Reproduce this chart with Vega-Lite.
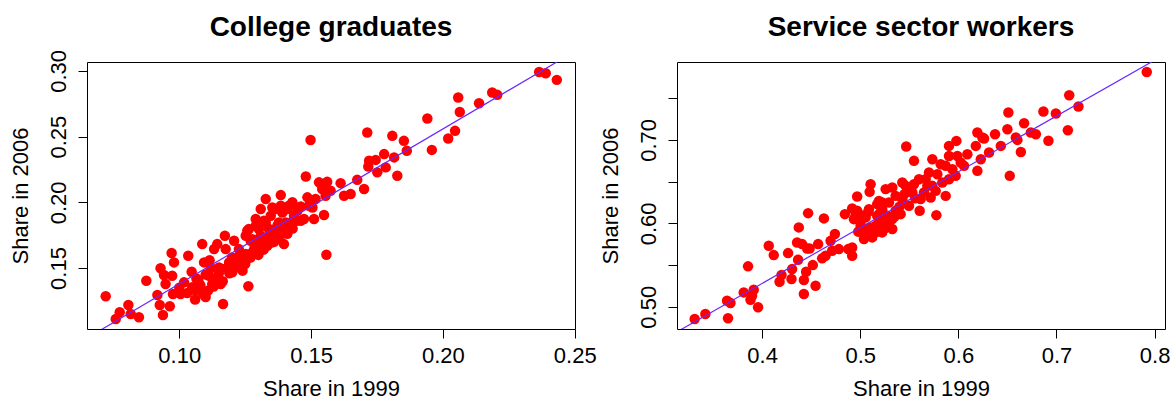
{
  "$schema": "https://vega.github.io/schema/vega-lite/v6.json",
  "background": "white",
  "padding": {"left": 8, "top": 13, "right": 0, "bottom": 0},
  "bounds": "flush",
  "spacing": 102,
  "config": {
    "font": "Liberation Sans",
    "view": {"stroke": "black", "strokeWidth": 1},
    "axis": {
      "domain": false, "grid": false,
      "tickColor": "black", "tickSize": 9, "tickWidth": 1,
      "labelFont": "Liberation Sans", "labelFontSize": 22, "labelColor": "black",
      "titleFont": "Liberation Sans", "titleFontSize": 22, "titleFontWeight": "normal", "titleColor": "black",
      "labelOverlap": false, "labelFlush": false, "labelBound": false
    },
    "axisX": {"labelPadding": 7, "titlePadding": 12},
    "axisY": {"labelAngle": -90, "labelAlign": "center", "labelBaseline": "bottom", "labelPadding": 8, "titlePadding": 15},
    "title": {"font": "Liberation Sans", "fontSize": 28, "fontWeight": "bold", "color": "black", "frame": "group", "anchor": "middle"}
  },
  "datasets": {
    "college": [
      {"share1999":0.0721,"share2006":0.1285},{"share1999":0.0759,"share2006":0.1112},{"share1999":0.0774,"share2006":0.1163},{"share1999":0.0807,"share2006":0.1219},
      {"share1999":0.0816,"share2006":0.1150},{"share1999":0.0847,"share2006":0.1125},{"share1999":0.0875,"share2006":0.1403},{"share1999":0.0917,"share2006":0.1295},
      {"share1999":0.0926,"share2006":0.1219},{"share1999":0.0938,"share2006":0.1143},{"share1999":0.0964,"share2006":0.1209},{"share1999":0.0929,"share2006":0.1498},
      {"share1999":0.0942,"share2006":0.1447},{"share1999":0.0971,"share2006":0.1614},{"share1999":0.0980,"share2006":0.1543},{"share1999":0.0973,"share2006":0.1441},
      {"share1999":0.0948,"share2006":0.1378},{"share1999":0.0976,"share2006":0.1302},{"share1999":0.1005,"share2006":0.1302},{"share1999":0.1018,"share2006":0.1391},
      {"share1999":0.1034,"share2006":0.1594},{"share1999":0.1047,"share2006":0.1472},{"share1999":0.1049,"share2006":0.1353},{"share1999":0.1072,"share2006":0.1403},
      {"share1999":0.1087,"share2006":0.1682},{"share1999":0.1090,"share2006":0.1302},{"share1999":0.1094,"share2006":0.1543},{"share1999":0.1113,"share2006":0.1441},
      {"share1999":0.1125,"share2006":0.1378},{"share1999":0.1132,"share2006":0.1644},{"share1999":0.1144,"share2006":0.1682},{"share1999":0.1151,"share2006":0.1505},
      {"share1999":0.1157,"share2006":0.1378},{"share1999":0.1166,"share2006":0.1226},{"share1999":0.1173,"share2006":0.1746},{"share1999":0.1176,"share2006":0.1644},
      {"share1999":0.1189,"share2006":0.1543},{"share1999":0.1201,"share2006":0.1467},{"share1999":0.1208,"share2006":0.1708},{"share1999":0.1214,"share2006":0.1543},
      {"share1999":0.1226,"share2006":0.1644},{"share1999":0.1245,"share2006":0.1568},{"share1999":0.1258,"share2006":0.1784},{"share1999":0.1262,"share2006":0.1361},
      {"share1999":0.1271,"share2006":0.1708},{"share1999":0.1277,"share2006":0.1619},{"share1999":0.1290,"share2006":0.1822},{"share1999":0.1302,"share2006":0.1670},
      {"share1999":0.1309,"share2006":0.1746},{"share1999":0.1328,"share2006":0.2025},{"share1999":0.1328,"share2006":0.1847},{"share1999":0.1334,"share2006":0.1670},
      {"share1999":0.1347,"share2006":0.1898},{"share1999":0.1353,"share2006":0.1771},{"share1999":0.1366,"share2006":0.1949},{"share1999":0.1372,"share2006":0.1822},
      {"share1999":0.1385,"share2006":0.2055},{"share1999":0.1391,"share2006":0.1923},{"share1999":0.1397,"share2006":0.1682},{"share1999":0.1404,"share2006":0.1847},
      {"share1999":0.1416,"share2006":0.1974},{"share1999":0.1429,"share2006":0.2000},{"share1999":0.1435,"share2006":0.1898},{"share1999":0.1498,"share2006":0.2475},
      {"share1999":0.1713,"share2006":0.2532},{"share1999":0.1808,"share2006":0.2506},{"share1999":0.1480,"share2006":0.2197},{"share1999":0.1558,"share2006":0.1601},
      {"share1999":0.1530,"share2006":0.2152},{"share1999":0.1561,"share2006":0.2156},{"share1999":0.1612,"share2006":0.2146},{"share1999":0.1675,"share2006":0.2171},
      {"share1999":0.1701,"share2006":0.2101},{"share1999":0.1625,"share2006":0.2050},{"share1999":0.1650,"share2006":0.2063},{"share1999":0.1720,"share2006":0.2316},
      {"share1999":0.1745,"share2006":0.2323},{"share1999":0.1777,"share2006":0.2367},{"share1999":0.1815,"share2006":0.2342},{"share1999":0.1751,"share2006":0.2228},
      {"share1999":0.1783,"share2006":0.2266},{"share1999":0.1827,"share2006":0.2202},{"share1999":0.1486,"share2006":0.2038},{"share1999":0.1517,"share2006":0.2025},
      {"share1999":0.1492,"share2006":0.1974},{"share1999":0.1549,"share2006":0.1903},{"share1999":0.1511,"share2006":0.1873},{"share1999":0.1473,"share2006":0.1873},
      {"share1999":0.1410,"share2006":0.1949},{"share1999":0.1353,"share2006":0.1961},{"share1999":0.1461,"share2006":0.1860},{"share1999":0.1378,"share2006":0.1847},
      {"share1999":0.1321,"share2006":0.1860},{"share1999":0.1290,"share2006":0.1873},{"share1999":0.1264,"share2006":0.1797},{"share1999":0.1252,"share2006":0.1746},
      {"share1999":0.1277,"share2006":0.1720},{"share1999":0.1302,"share2006":0.1797},{"share1999":0.1340,"share2006":0.1797},{"share1999":0.1366,"share2006":0.1771},
      {"share1999":0.1328,"share2006":0.1720},{"share1999":0.1290,"share2006":0.1670},{"share1999":0.1252,"share2006":0.1606},{"share1999":0.1252,"share2006":0.1555},
      {"share1999":0.1353,"share2006":0.1695},{"share1999":0.1385,"share2006":0.1974},{"share1999":0.1309,"share2006":0.1949},{"share1999":0.1448,"share2006":0.1936},
      {"share1999":0.1852,"share2006":0.2468},{"share1999":0.1863,"share2006":0.2392},{"share1999":0.1717,"share2006":0.2273},{"share1999":0.1542,"share2006":0.2101},
      {"share1999":0.1574,"share2006":0.2088},{"share1999":0.1555,"share2006":0.2050},{"share1999":0.1505,"share2006":0.1961},{"share1999":0.1423,"share2006":0.1847},
      {"share1999":0.1461,"share2006":0.1969},{"share1999":0.1941,"share2006":0.2638},{"share1999":0.1958,"share2006":0.2399},{"share1999":0.2020,"share2006":0.2486},
      {"share1999":0.2046,"share2006":0.2544},{"share1999":0.2058,"share2006":0.2798},{"share1999":0.2064,"share2006":0.2688},{"share1999":0.2137,"share2006":0.2754},
      {"share1999":0.2187,"share2006":0.2836},{"share1999":0.2206,"share2006":0.2818},{"share1999":0.2365,"share2006":0.2992},{"share1999":0.2390,"share2006":0.2983},
      {"share1999":0.2432,"share2006":0.2932},
      {"share1999":0.1000,"share2006":0.1350},{"share1999":0.1030,"share2006":0.1310},{"share1999":0.1060,"share2006":0.1330},{"share1999":0.1065,"share2006":0.1420},
      {"share1999":0.1080,"share2006":0.1370},{"share1999":0.1100,"share2006":0.1450},{"share1999":0.1110,"share2006":0.1330},{"share1999":0.1120,"share2006":0.1500},
      {"share1999":0.1140,"share2006":0.1420},{"share1999":0.1150,"share2006":0.1460},{"share1999":0.1165,"share2006":0.1400},{"share1999":0.1180,"share2006":0.1500},
      {"share1999":0.1190,"share2006":0.1460},{"share1999":0.1200,"share2006":0.1580},{"share1999":0.1220,"share2006":0.1510},{"share1999":0.1230,"share2006":0.1600},
      {"share1999":0.1240,"share2006":0.1480},{"share1999":0.1250,"share2006":0.1530},{"share1999":0.1270,"share2006":0.1580},{"share1999":0.1285,"share2006":0.1650},
      {"share1999":0.1300,"share2006":0.1600},{"share1999":0.1310,"share2006":0.1700},{"share1999":0.1320,"share2006":0.1640},{"share1999":0.1340,"share2006":0.1740},
      {"share1999":0.1360,"share2006":0.1700},{"share1999":0.1380,"share2006":0.1730},{"share1999":0.1395,"share2006":0.1800},{"share1999":0.1410,"share2006":0.1760},
      {"share1999":0.1430,"share2006":0.1800},{"share1999":0.1445,"share2006":0.1860},{"share1999":0.1115,"share2006":0.1560},{"share1999":0.1060,"share2006":0.1260},
      {"share1999":0.1100,"share2006":0.1280},{"share1999":0.1130,"share2006":0.1360}
    ],
    "college_fit": [
      {"share1999":0.06,"share2006":0.0908},{"share1999":0.26,"share2006":0.3266}
    ],
    "service": [
      {"share1999":0.3313,"share2006":0.4853},{"share1999":0.3422,"share2006":0.4913},{"share1999":0.3653,"share2006":0.4861},{"share1999":0.3643,"share2006":0.5072},
      {"share1999":0.3678,"share2006":0.5044},{"share1999":0.3813,"share2006":0.5172},{"share1999":0.3857,"share2006":0.5484},{"share1999":0.3882,"share2006":0.5084},
      {"share1999":0.3915,"share2006":0.5204},{"share1999":0.3959,"share2006":0.4993},{"share1999":0.3898,"share2006":0.5132},{"share1999":0.4068,"share2006":0.5731},
      {"share1999":0.4119,"share2006":0.5619},{"share1999":0.4178,"share2006":0.5299},{"share1999":0.4198,"share2006":0.5380},{"share1999":0.4265,"share2006":0.5643},
      {"share1999":0.4300,"share2006":0.5332},{"share1999":0.4306,"share2006":0.5451},{"share1999":0.4367,"share2006":0.5563},{"share1999":0.4374,"share2006":0.5951},
      {"share1999":0.4357,"share2006":0.5771},{"share1999":0.4408,"share2006":0.5751},{"share1999":0.4426,"share2006":0.5152},{"share1999":0.4426,"share2006":0.5320},
      {"share1999":0.4449,"share2006":0.5419},{"share1999":0.4459,"share2006":0.5699},{"share1999":0.4469,"share2006":0.6122},{"share1999":0.4484,"share2006":0.5699},
      {"share1999":0.4517,"share2006":0.5499},{"share1999":0.4545,"share2006":0.5251},{"share1999":0.4571,"share2006":0.5751},{"share1999":0.4612,"share2006":0.5580},
      {"share1999":0.4630,"share2006":0.6059},{"share1999":0.4647,"share2006":0.5611},{"share1999":0.4698,"share2006":0.5790},{"share1999":0.4742,"share2006":0.5871},
      {"share1999":0.4714,"share2006":0.5671},{"share1999":0.4783,"share2006":0.5691},{"share1999":0.4844,"share2006":0.6110},{"share1999":0.4878,"share2006":0.5691},
      {"share1999":0.4918,"share2006":0.5611},{"share1999":0.4918,"share2006":0.6178},{"share1999":0.4953,"share2006":0.6090},{"share1999":0.4969,"share2006":0.6322},
      {"share1999":0.5004,"share2006":0.6030},{"share1999":0.5020,"share2006":0.5951},{"share1999":0.5038,"share2006":0.5811},{"share1999":0.5082,"share2006":0.6138},
      {"share1999":0.5096,"share2006":0.6377},{"share1999":0.5106,"share2006":0.6469},{"share1999":0.5122,"share2006":0.5831},{"share1999":0.5157,"share2006":0.5910},
      {"share1999":0.5173,"share2006":0.6230},{"share1999":0.5191,"share2006":0.6011},{"share1999":0.5224,"share2006":0.6250},{"share1999":0.5242,"share2006":0.5931},
      {"share1999":0.5259,"share2006":0.6410},{"share1999":0.5276,"share2006":0.6090},{"share1999":0.5469,"share2006":0.6921},{"share1999":0.5548,"share2006":0.6749},
      {"share1999":0.5735,"share2006":0.6769},{"share1999":0.5776,"share2006":0.6098},{"share1999":0.5606,"share2006":0.6150},{"share1999":0.5905,"share2006":0.6928},
      {"share1999":0.5980,"share2006":0.6988},{"share1999":0.6194,"share2006":0.7089},{"share1999":0.6262,"share2006":0.7017},{"share1999":0.6374,"share2006":0.7068},
      {"share1999":0.6510,"share2006":0.7328},{"share1999":0.6500,"share2006":0.7128},{"share1999":0.6670,"share2006":0.7200},{"share1999":0.6586,"share2006":0.7029},
      {"share1999":0.6637,"share2006":0.6856},{"share1999":0.6524,"share2006":0.6569},{"share1999":0.6433,"share2006":0.6928},{"share1999":0.6313,"share2006":0.6849},
      {"share1999":0.6229,"share2006":0.6769},{"share1999":0.6194,"share2006":0.6629},{"share1999":0.6178,"share2006":0.6928},{"share1999":0.6092,"share2006":0.6829},
      {"share1999":0.6024,"share2006":0.6729},{"share1999":0.6058,"share2006":0.6689},{"share1999":0.5990,"share2006":0.6808},{"share1999":0.5905,"share2006":0.6808},
      {"share1999":0.5871,"share2006":0.6689},{"share1999":0.5820,"share2006":0.6709},{"share1999":0.5939,"share2006":0.6649},{"share1999":0.5973,"share2006":0.6569},
      {"share1999":0.5905,"share2006":0.6529},{"share1999":0.5837,"share2006":0.6490},{"share1999":0.5786,"share2006":0.6589},{"share1999":0.5701,"share2006":0.6610},
      {"share1999":0.5667,"share2006":0.6529},{"share1999":0.5735,"share2006":0.6449},{"share1999":0.5769,"share2006":0.6389},{"share1999":0.5718,"share2006":0.6310},
      {"share1999":0.5871,"share2006":0.6329},{"share1999":0.5650,"share2006":0.6370},{"share1999":0.5599,"share2006":0.6529},{"share1999":0.5548,"share2006":0.6469},
      {"share1999":0.5616,"share2006":0.6290},{"share1999":0.5531,"share2006":0.6370},{"share1999":0.5463,"share2006":0.6449},{"share1999":0.5429,"share2006":0.6490},
      {"share1999":0.5327,"share2006":0.6430},{"share1999":0.5361,"share2006":0.6329},{"share1999":0.5429,"share2006":0.6290},{"share1999":0.5497,"share2006":0.6210},
      {"share1999":0.5293,"share2006":0.6250},{"share1999":0.5191,"share2006":0.6269},{"share1999":0.5224,"share2006":0.6170},{"share1999":0.5361,"share2006":0.6150},
      {"share1999":0.5412,"share2006":0.6110},{"share1999":0.5327,"share2006":0.6050},{"share1999":0.5242,"share2006":0.6030},{"share1999":0.5173,"share2006":0.6090},
      {"share1999":0.5089,"share2006":0.6170},{"share1999":0.5055,"share2006":0.6071},{"share1999":0.4969,"share2006":0.6150},{"share1999":0.4936,"share2006":0.6050},
      {"share1999":0.5004,"share2006":0.5970},{"share1999":0.5157,"share2006":0.5970},{"share1999":0.5259,"share2006":0.5951},{"share1999":0.5327,"share2006":0.5931},
      {"share1999":0.5224,"share2006":0.5891},{"share1999":0.5122,"share2006":0.5850},{"share1999":0.4918,"share2006":0.5711},{"share1999":0.5684,"share2006":0.6449},
      {"share1999":0.6739,"share2006":0.7089},{"share1999":0.6790,"share2006":0.7068},{"share1999":0.6867,"share2006":0.7340},{"share1999":0.6918,"share2006":0.6990},
      {"share1999":0.6994,"share2006":0.7316},{"share1999":0.7116,"share2006":0.7116},{"share1999":0.7130,"share2006":0.7535},{"share1999":0.7224,"share2006":0.7400},
      {"share1999":0.7920,"share2006":0.7814},{"share1999":0.6602,"share2006":0.7000},{"share1999":0.6245,"share2006":0.7029},
      {"share1999":0.5050,"share2006":0.5870},{"share1999":0.5100,"share2006":0.5950},{"share1999":0.5180,"share2006":0.5900},{"share1999":0.5280,"share2006":0.6000},
      {"share1999":0.5350,"share2006":0.6080},{"share1999":0.5400,"share2006":0.6200},{"share1999":0.5450,"share2006":0.6350},{"share1999":0.5500,"share2006":0.6400},
      {"share1999":0.5560,"share2006":0.6300},{"share1999":0.5200,"share2006":0.6120},{"share1999":0.5000,"share2006":0.6100},{"share1999":0.4980,"share2006":0.5900}
    ],
    "service_fit": [
      {"share1999":0.30,"share2006":0.4610},{"share1999":0.82,"share2006":0.8089}
    ]
  },
  "hconcat": [
    {
      "title": {"text": "College graduates", "offset": 8},
      "width": 488,
      "height": 267,
      "layer": [
        {
          "data": {"name": "college"},
          "mark": {"type": "point", "shape": "circle", "filled": true, "color": "#ff0000", "opacity": 1, "size": 110},
          "encoding": {
            "x": {"field": "share1999", "type": "quantitative", "title": "Share in 1999",
                  "scale": {"domain": [0.065, 0.2501], "nice": false, "zero": false},
                  "axis": {"values": [0.10, 0.15, 0.20, 0.25], "format": ".2f"}},
            "y": {"field": "share2006", "type": "quantitative", "title": "Share in 2006",
                  "scale": {"domain": [0.1036, 0.3068], "nice": false, "zero": false},
                  "axis": {"values": [0.15, 0.20, 0.25, 0.30], "format": ".2f"}}
          }
        },
        {
          "data": {"name": "college_fit"},
          "mark": {"type": "line", "color": "#6a28ff", "strokeWidth": 1.2, "clip": true},
          "encoding": {
            "x": {"field": "share1999", "type": "quantitative"},
            "y": {"field": "share2006", "type": "quantitative"}
          }
        }
      ]
    },
    {
      "title": {"text": "Service sector workers", "offset": 20},
      "width": 488,
      "height": 267,
      "layer": [
        {
          "data": {"name": "service"},
          "mark": {"type": "point", "shape": "circle", "filled": true, "color": "#ff0000", "opacity": 1, "size": 110},
          "encoding": {
            "x": {"field": "share1999", "type": "quantitative", "title": "Share in 1999",
                  "scale": {"domain": [0.3133, 0.8106], "nice": false, "zero": false},
                  "axis": {"values": [0.4, 0.5, 0.6, 0.7, 0.8], "format": ".1f"}},
            "y": {"field": "share2006", "type": "quantitative", "title": "Share in 2006",
                  "scale": {"domain": [0.4733, 0.7934], "nice": false, "zero": false},
                  "axis": {"values": [0.50, 0.55, 0.60, 0.65, 0.70, 0.75],
                           "labelExpr": "round(datum.value * 20) % 2 == 0 ? format(datum.value, '.2f') : ''"}}
          }
        },
        {
          "data": {"name": "service_fit"},
          "mark": {"type": "line", "color": "#6a28ff", "strokeWidth": 1.2, "clip": true},
          "encoding": {
            "x": {"field": "share1999", "type": "quantitative"},
            "y": {"field": "share2006", "type": "quantitative"}
          }
        }
      ]
    }
  ]
}
